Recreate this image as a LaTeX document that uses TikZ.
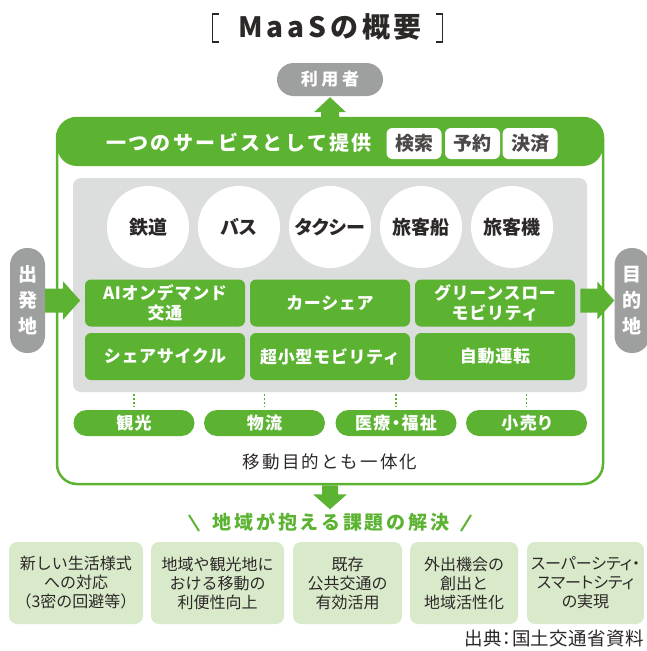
\documentclass[tikz,border=0pt]{standalone}
\usepackage{fontspec}
\setmainfont{Noto Sans CJK JP}
\usetikzlibrary{calc}
\definecolor{mgreen}{RGB}{92,179,50}
\definecolor{lgreen}{RGB}{217,234,203}
\definecolor{pgray}{RGB}{158,159,159}
\definecolor{bgray}{RGB}{220,221,221}
\definecolor{dtext}{RGB}{45,40,40}
\newcommand\lsp[1]{\addfontfeature{LetterSpace=#1}}
\begin{document}
\begin{tikzpicture}[x=1pt,y=-1pt,
  gbox/.style={fill=mgreen, rounded corners=6pt, minimum width=160pt, minimum height=47pt, inner sep=0pt, text=white, align=center, font=\bfseries\fontsize{17}{20}\selectfont\lsp{4}},
  circ/.style={circle, fill=white, minimum size=82pt, inner sep=0pt, text=dtext, font=\bfseries\fontsize{19}{22}\selectfont\addfontfeature{RawFeature=+palt}},
  tagbox/.style={fill=mgreen, rounded corners=13pt, minimum width=121pt, minimum height=26pt, inner sep=0pt, text=white, font=\bfseries\fontsize{17}{20}\selectfont\addfontfeature{RawFeature=+palt}\lsp{8}},
  wbox/.style={fill=white, rounded corners=6pt, minimum width=55pt, minimum height=31pt, inner sep=0pt, text=dtext!85!white, font=\bfseries\fontsize{19}{22}\selectfont},
  issue/.style={fill=lgreen, rounded corners=8pt, minimum height=82pt, inner sep=0pt, text=dtext, align=center, font=\fontsize{16}{19}\selectfont},
  pillv/.style={fill=pgray, rounded corners=17pt, minimum width=35pt, minimum height=105pt, inner sep=0pt, text=white, align=center, font=\bfseries\fontsize{19}{26}\selectfont},
  dotline/.style={draw=mgreen, line width=1.6pt, dash pattern=on 1.6pt off 2.2pt},
  blockarrow/.style={fill=mgreen}
]
\useasboundingbox (0,0) rectangle (646,651);

% title
\draw[dtext, line width=1.6pt] (219,14) -- (212.5,14) -- (212.5,42) -- (219,42);
\draw[dtext, line width=1.6pt] (436,14) -- (442.5,14) -- (442.5,42) -- (436,42);
\node[text=dtext, font=\bfseries\fontsize{28}{30}\selectfont\lsp{14}] (title) at (330,27) {MaaSの概要};

% user pill
\node[fill=pgray, rounded corners=16.5pt, minimum width=106pt, minimum height=33pt, inner sep=0pt, text=white, font=\bfseries\fontsize{17}{20}\selectfont\lsp{22}] (user) at (330,79.5) {利用者};

% main box
\node[draw=mgreen, line width=2.5pt, fill=white, rounded corners=20pt, minimum width=546pt, minimum height=366pt, inner sep=0pt,
  path picture={\fill[mgreen] (path picture bounding box.north west) rectangle ($(path picture bounding box.north east)+(0,48)$);}] (main) at (330,301) {};

% up arrow
\coordinate (upTip) at ($(user.south)+(0,1)$);
\fill[blockarrow] (upTip) -- ++(16,15) -- ++(-7,0) -- ++(0,8) -- ++(-18,0) -- ++(0,-8) -- ++(-7,0) -- cycle;

% header
\node[text=white, font=\bfseries\fontsize{20}{22}\selectfont\lsp{12}] (hdr) at (239,143) {一つのサービスとして提供};
\node[wbox] (s1) at (414,143.5) {検索};
\node[wbox] (s2) at (472.5,143.5) {予約};
\node[wbox] (s3) at (530,143.5) {決済};

% gray area
\node[fill=bgray, rounded corners=8pt, minimum width=514pt, minimum height=214pt, inner sep=0pt] (area) at (330,285) {};

% circles
\node[circ] (c1) at (148,227) {鉄道};
\node[circ] (c2) at (239,227) {バス};
\node[circ] (c3) at (330,227) {タクシー};
\node[circ] (c4) at (421,227) {旅客船};
\node[circ] (c5) at (512,227) {旅客機};

% service boxes
\node[gbox] (m1) at (165,303) {AIオンデマンド\\交通};
\node[gbox] (m2) at (330,303) {カーシェア};
\node[gbox] (m3) at (495,303) {グリーンスロー\\モビリティ};
\node[gbox] (m4) at (165,356.5) {シェアサイクル};
\node[gbox] (m5) at (330,356.5) {超小型モビリティ};
\node[gbox] (m6) at (495,356.5) {自動運転};

% tags
\node[tagbox] (t1) at (134,423) {観光};
\node[tagbox] (t2) at (264.5,423) {物流};
\node[tagbox] (t3) at (396,423) {医療・福祉};
\node[tagbox] (t4) at (526.5,423) {小売り};
\foreach \t in {t1,t2,t3,t4}{
  \draw[dotline] ($(\t.north)+(0,-2.5)$) -- ($(\t.north)+(0,-16)$);
}
\node[text=dtext, font=\fontsize{17.5}{20}\selectfont\lsp{12}] (integ) at (330,462) {移動目的とも一体化};

% origin / destination
\node[pillv] (dep) at (27.5,300.5) {出\\発\\地};
\node[pillv] (dest) at (632,300.5) {目\\的\\地};
\fill[blockarrow] ($(dep.east)+(0,-12)$) -- ++(18,0) -- ++(0,-7) -- ++(17,19) -- ++(-17,19) -- ++(0,-7) -- ++(-18,0) -- cycle;
\fill[blockarrow] (dest.west) -- ++(-17,-19) -- ++(0,7) -- ++(-17,0) -- ++(0,24) -- ++(17,0) -- ++(0,7) -- cycle;

% down arrow
\fill[blockarrow] ($(main.south)+(-8,0)$) -- ++(16,0) -- ++(0,9) -- ++(9,0) -- ++(-17,15) -- ++(-17,-15) -- ++(9,0) -- cycle;

% challenge title
\node[text=mgreen, font=\bfseries\fontsize{19}{22}\selectfont\lsp{15}] (chal) at (331,522) {地域が抱える課題の解決};
\draw[mgreen, line width=2pt] (189,515) -- (199,531);
\draw[mgreen, line width=2pt] (471,515) -- (461,531);

% issues
\node[issue, minimum width=134pt] (i1) at (76,583) {新しい生活様式\\への対応\\（3密の回避等）};
\node[issue, minimum width=133pt] (i2) at (217.5,583) {地域や観光地に\\おける移動の\\利便性向上};
\node[issue, minimum width=109pt] (i3) at (347.5,583) {既存\\公共交通の\\有効活用};
\node[issue, minimum width=108pt] (i4) at (464,583) {外出機会の\\創出と\\地域活性化};
\node[issue, minimum width=117pt, font=\fontsize{16}{19}\selectfont\addfontfeature{RawFeature=+palt}] (i5) at (585.5,583) {スーパーシティ・\\スマートシティ\\の実現};

% source
\node[anchor=east, text=dtext, font=\fontsize{18.5}{22}\selectfont\addfontfeature{RawFeature=+palt}\lsp{2}, inner sep=0pt] (src) at (644,638) {出典：国土交通省資料};
\end{tikzpicture}
\end{document}
